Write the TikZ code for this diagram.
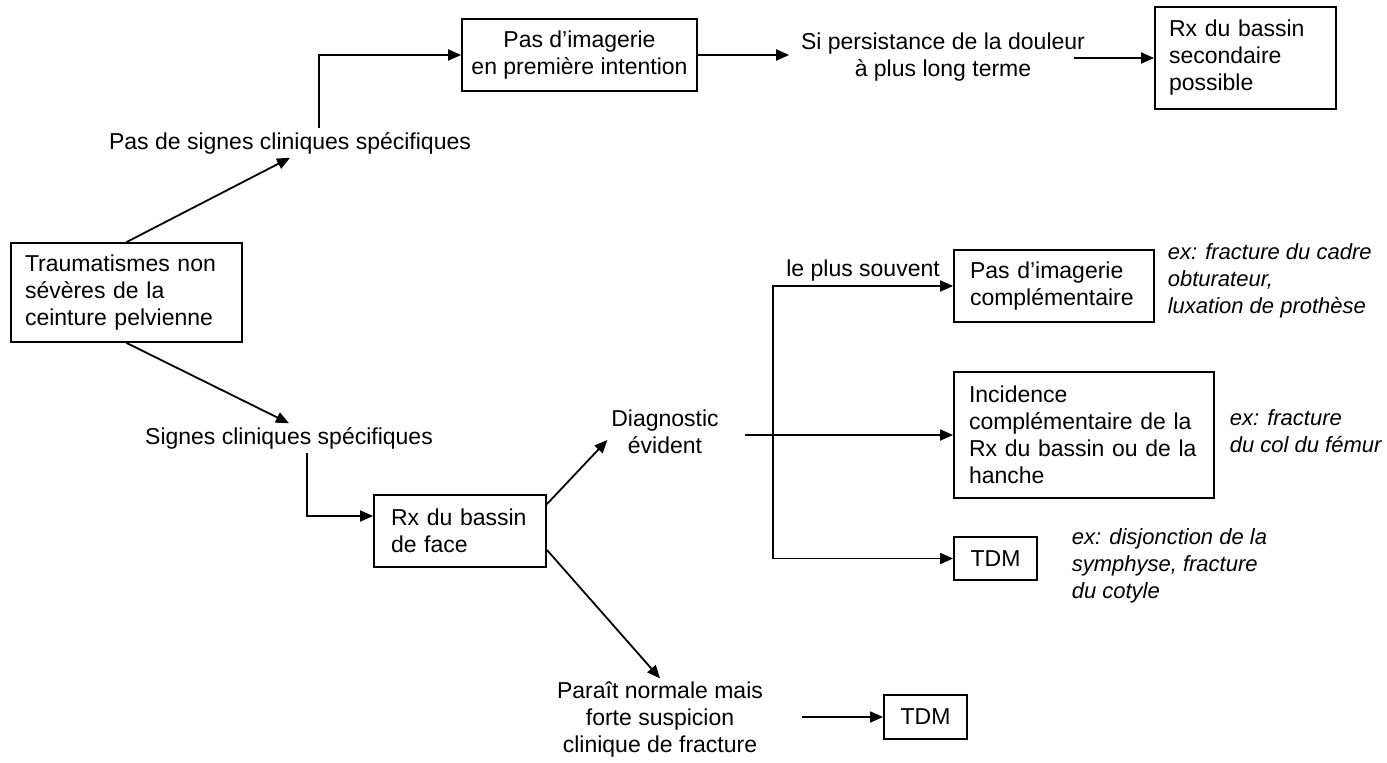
\documentclass[tikz,border=0pt]{standalone}
\usepackage{fontspec}
\setmainfont{Liberation Sans}
\usetikzlibrary{arrows.meta,positioning}

\begin{document}
\begin{tikzpicture}[x=1pt,y=-1pt,node distance=12pt,
     font=\fontsize{23}{27}\selectfont,line width=1.8pt,
     box/.style={draw,inner xsep=14pt,inner ysep=3pt,align=left},
     txt/.style={inner sep=3pt,align=center},
     note/.style={inner sep=0pt,align=left,font=\fontsize{22}{27}\selectfont\itshape},
     arr/.style={-{Triangle[length=13pt,width=11pt]}}]

  \useasboundingbox (0,0) rectangle (1387,763);

  % boxes
  \node[box,text width=203pt,minimum height=99pt] (trauma) at (126.5,292.5)
    {Traumatismes non\\sévères de la\\ceinture pelvienne};
  \node[box,align=center,inner xsep=8pt,minimum width=235pt,minimum height=72pt] (imgno) at (579.5,55)
    {Pas d'imagerie\\en première intention};
  \node[box,text width=153pt,minimum height=102pt] (rxsec) at (1245.5,58)
    {Rx du bassin\\secondaire\\possible};
  \node[box,inner xsep=17pt,text width=138pt,minimum height=72pt] (rxface) at (460,531)
    {Rx du bassin\\de face};
  \node[box,inner xsep=16pt,text width=168pt,minimum height=72pt] (imgcompl) at (1054,286)
    {Pas d'imagerie\\complémentaire};
  \node[box,inner xsep=15pt,text width=230pt,minimum height=126pt] (incid) at (1084,435)
    {Incidence\\complémentaire de la\\Rx du bassin ou de la\\hanche};
  \node[box,align=center,minimum width=83pt,minimum height=43pt] (tdma) at (995.5,558.5) {TDM};
  \node[box,align=center,minimum width=83pt,minimum height=44pt] (tdmb) at (925.5,717) {TDM};

  % plain texts
  \node[txt] (nosign) at (290,143) {Pas de signes cliniques spécifiques};
  \node[txt] (persist) at (943,57) {Si persistance de la douleur\\à plus long terme};
  \node[txt] (sign) at (289,438) {Signes cliniques spécifiques};
  \node[txt] (diag) at (665,432) {Diagnostic\\évident};
  \node[txt] (normal) at (660,720) {Paraît normale mais\\forte suspicion\\clinique de fracture};

  % examples
  \node[note,right=12pt of imgcompl,yshift=5pt] (exa) {ex: fracture du cadre\\obturateur,\\luxation de prothèse};
  \node[note,right=14pt of incid,yshift=4pt] (exb) {ex: fracture\\du col du fémur};
  \node[note,right=33pt of tdma,yshift=-7pt] (exc) {ex: disjonction de la\\symphyse, fracture\\du cotyle};

  \coordinate (fork) at (773,435);

  \draw[arr] (trauma.north) -- (nosign.south);
  \draw[arr] ([xshift=29pt]nosign.north) |- (imgno.west);
  \draw[arr] (imgno.east) -- ([xshift=-8pt]persist.west |- imgno.east);
  \draw[arr] ([xshift=-15pt]persist.east |- rxsec.west) -- (rxsec.west);

  \draw[arr] (trauma.south) -- (sign.north);
  \draw[arr] ([xshift=18pt]sign.south) |- ([yshift=15pt]rxface.west);
  \draw[arr] ([yshift=-10pt]rxface.north east) -- ([yshift=-8pt]diag.west);
  \draw[arr] ([yshift=18pt]rxface.south east) -- (normal.north);
  \draw[arr] ([xshift=35pt]normal.east |- tdmb.west) -- (tdmb.west);

  \draw[arr] ([xshift=22pt]diag.east |- incid.west) -- (incid.west);
  \draw[arr] (fork) |- node[above,pos=0.75] (often) {le plus souvent} (imgcompl.west);
  \draw[arr] (fork) |- (tdma.west);
\end{tikzpicture}
\end{document}
